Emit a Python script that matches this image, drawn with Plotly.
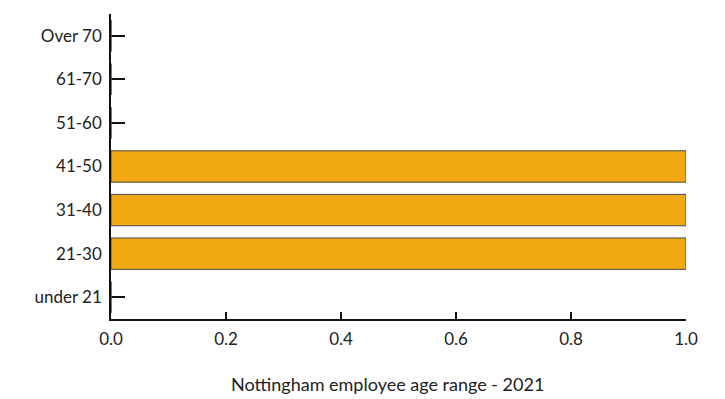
import plotly.graph_objects as go

# Age bands, bottom to top
age_bands = ["under 21", "21-30", "31-40", "41-50", "51-60", "61-70", "Over 70"]
employees = [0, 1, 1, 1, 0, 0, 0]
x_ticks = [0.0, 0.2, 0.4, 0.6, 0.8, 1.0]
x_title = "Nottingham employee age range - 2021"

FONT = "Lato, 'Open Sans', sans-serif"

fig = go.Figure(
    go.Bar(
        y=age_bands,
        x=employees,
        orientation="h",
        width=0.72,
        marker=dict(color="#F0A912", line=dict(color="#4a4a4a", width=1)),
        hoverinfo="x+y",
    )
)

fig.update_layout(
    width=725,
    height=399,
    margin=dict(l=111, r=39, t=14, b=80),
    paper_bgcolor="white",
    plot_bgcolor="white",
    font=dict(family=FONT, size=17, color="#222222"),
    showlegend=False,
    bargap=0.28,
)

fig.update_xaxes(
    range=[0, 1],
    tickvals=x_ticks,
    ticktext=[f"{v:.1f}" for v in x_ticks],
    ticks="inside",
    ticklen=7,
    tickwidth=1.5,
    tickcolor="#111111",
    showline=True,
    linecolor="#111111",
    linewidth=1.5,
    showgrid=False,
    zeroline=False,
    layer="below traces",
    ticklabelstandoff=4,
    automargin=False,
)

fig.update_yaxes(
    type="category",
    categoryorder="array",
    categoryarray=age_bands,
    range=[-0.5, 6.5],
    ticks="inside",
    ticklen=14,
    tickwidth=1.5,
    tickcolor="#111111",
    showline=True,
    linecolor="#111111",
    linewidth=1.5,
    showgrid=False,
    zeroline=False,
    layer="below traces",
    ticklabelstandoff=4,
    automargin=False,
)

# Axis caption placed below the tick labels
fig.add_annotation(
    text=x_title,
    xref="paper", yref="paper",
    x=0.48, y=-0.213,
    xanchor="center", yanchor="middle",
    showarrow=False,
    font=dict(size=18),
)

fig.write_html("out.html")
